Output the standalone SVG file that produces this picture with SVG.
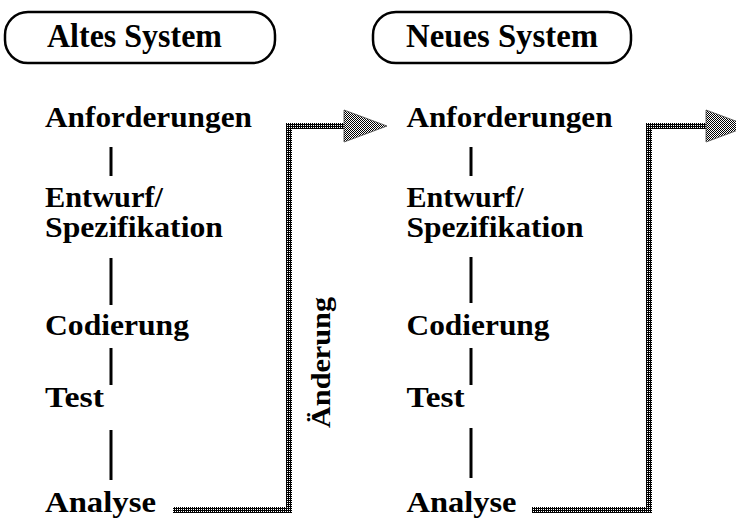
<svg xmlns="http://www.w3.org/2000/svg" width="736" height="518" viewBox="0 0 736 518">
<defs>
<pattern id="dark" width="2" height="2" patternUnits="userSpaceOnUse"><rect width="2" height="2" fill="#000"/><rect x="1" y="1" width="1" height="1" fill="#fff"/></pattern>
<pattern id="chk" width="2" height="2" patternUnits="userSpaceOnUse"><rect width="2" height="2" fill="#fff"/><rect width="1" height="1" fill="#000"/><rect x="1" y="1" width="1" height="1" fill="#000"/></pattern>
</defs>
<style>
text{font-family:"Liberation Serif","Times New Roman",serif;font-weight:bold;fill:#000}
.t{font-size:30px}
.h{font-size:33px}
.pill{fill:#fff;stroke:#000;stroke-width:2.5}
.bar{stroke:#000;stroke-width:3}
.conn{fill:none;stroke:url(#dark);stroke-width:6}
.head{fill:url(#chk);stroke:#444;stroke-width:0.8}
</style>
<rect width="736" height="518" fill="#fff"/>
<g id="altes-system">
<rect class="pill" x="5" y="12" width="270" height="51" rx="23"/>
<text class="h" x="47" y="47" textLength="175" lengthAdjust="spacingAndGlyphs">Altes System</text>
</g>
<g id="neues-system">
<rect class="pill" x="373" y="12" width="258" height="51" rx="23"/>
<text class="h" x="406" y="47" textLength="192" lengthAdjust="spacingAndGlyphs">Neues System</text>
</g>
<g id="alt-anforderungen"><text class="t" x="45" y="127" textLength="207" lengthAdjust="spacingAndGlyphs">Anforderungen</text></g>
<g id="alt-entwurf"><text class="t" x="45" y="207" textLength="118" lengthAdjust="spacingAndGlyphs">Entwurf/</text><text class="t" x="45" y="237" textLength="178" lengthAdjust="spacingAndGlyphs">Spezifikation</text></g>
<g id="alt-codierung"><text class="t" x="45" y="335" textLength="144" lengthAdjust="spacingAndGlyphs">Codierung</text></g>
<g id="alt-test"><text class="t" x="45" y="407" textLength="59" lengthAdjust="spacingAndGlyphs">Test</text></g>
<g id="alt-analyse"><text class="t" x="45" y="512" textLength="111" lengthAdjust="spacingAndGlyphs">Analyse</text></g>
<g id="neu-anforderungen"><text class="t" x="406.5" y="127" textLength="206" lengthAdjust="spacingAndGlyphs">Anforderungen</text></g>
<g id="neu-entwurf"><text class="t" x="406.5" y="207" textLength="117" lengthAdjust="spacingAndGlyphs">Entwurf/</text><text class="t" x="406.5" y="237" textLength="177" lengthAdjust="spacingAndGlyphs">Spezifikation</text></g>
<g id="neu-codierung"><text class="t" x="406.5" y="335" textLength="143" lengthAdjust="spacingAndGlyphs">Codierung</text></g>
<g id="neu-test"><text class="t" x="406.5" y="407" textLength="58" lengthAdjust="spacingAndGlyphs">Test</text></g>
<g id="neu-analyse"><text class="t" x="406.5" y="512" textLength="110" lengthAdjust="spacingAndGlyphs">Analyse</text></g>
<g id="connectors">
<line class="bar" x1="111" y1="147" x2="111" y2="176"/>
<line class="bar" x1="111" y1="258" x2="111" y2="305"/>
<line class="bar" x1="111" y1="348" x2="111" y2="385"/>
<line class="bar" x1="111" y1="430" x2="111" y2="480"/>
<line class="bar" x1="471" y1="147" x2="471" y2="176"/>
<line class="bar" x1="471" y1="257" x2="471" y2="303"/>
<line class="bar" x1="471" y1="348" x2="471" y2="385"/>
<line class="bar" x1="471" y1="428" x2="471" y2="478"/>
<path class="conn" d="M173,510 H289 V126 H346"/>
<polygon class="head" points="344,110 387,126 344,142"/>
<path class="conn" d="M532,510 H649 V126 H708"/>
<polygon class="head" points="706,110 749,126 706,142"/>
<text transform="translate(330,428) rotate(-90)" x="0" y="0" font-size="27" textLength="131" lengthAdjust="spacingAndGlyphs">Änderung</text>
</g>
</svg>
